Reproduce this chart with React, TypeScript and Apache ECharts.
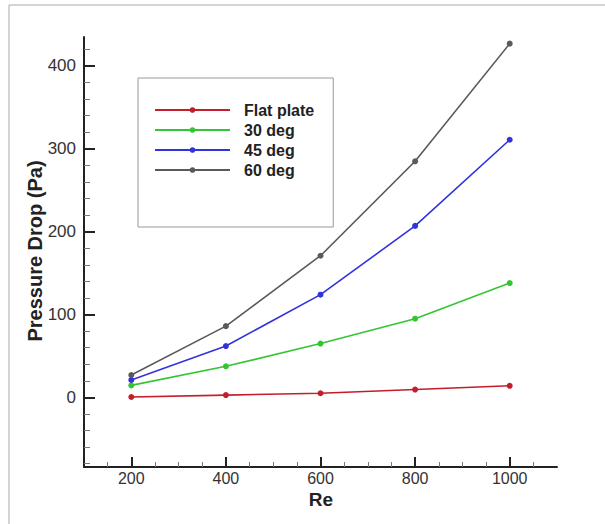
import React, { useEffect, useRef } from "react";
import * as echarts from "echarts";

const reValues = [200, 400, 600, 800, 1000];
const flatPlate = [0.5, 2.8, 5, 9.5, 14];
const deg30 = [14.5, 37.5, 65, 95, 138];
const deg45 = [21, 62, 124, 207, 311];
const deg60 = [27, 86, 171, 285, 427];

const seriesNames = ["Flat plate", "30 deg", "45 deg", "60 deg"];
const seriesColors = ["#c41e2a", "#33c633", "#3333dd", "#5a5a5a"];
const seriesData = [flatPlate, deg30, deg45, deg60];

const yMajor = [0, 100, 200, 300, 400];
const yMinor = [-80, -60, -40, -20, 20, 40, 60, 80, 120, 140, 160, 180, 220, 240, 260, 280, 320, 340, 360, 380, 420];
const xMajor = [200, 400, 600, 800, 1000];
const xMinor = [150, 250, 300, 350, 450, 500, 550, 650, 700, 750, 850, 900, 950, 1050];

const FONT = "'Liberation Sans', Arial, sans-serif";

export default function App() {
  const ref = useRef<HTMLDivElement>(null);
  useEffect(() => {
    if (!ref.current) return;
    const chart = echarts.init(ref.current, undefined, { renderer: "svg" });
    const axisColor = "#222";
    const fmt = (v: number) => String(v);
    const option: any = {
      animation: false,
      backgroundColor: "#fff",
      grid: { left: 84, right: 48, top: 37, bottom: 57, containLabel: false },
      xAxis: [
        {
          type: "value",
          min: 100,
          max: 1100,
          axisLine: { onZero: false, lineStyle: { color: axisColor, width: 2 } },
          axisTick: { inside: true, length: 10, customValues: xMajor, lineStyle: { color: axisColor, width: 2 } },
          axisLabel: { customValues: xMajor, formatter: fmt, color: "#333", fontSize: 16, fontFamily: FONT, margin: 3 },
          splitLine: { show: false },
        },
        {
          type: "value",
          min: 100,
          max: 1100,
          position: "bottom",
          axisLine: { show: false, onZero: false },
          axisTick: { inside: true, length: 5, customValues: xMinor, lineStyle: { color: "#777", width: 1 } },
          axisLabel: { show: false },
          splitLine: { show: false },
        },
      ],
      yAxis: [
        {
          type: "value",
          min: -84,
          max: 435,
          axisLine: { show: true, lineStyle: { color: axisColor, width: 2 } },
          axisTick: { show: true, inside: true, length: 11, customValues: yMajor, lineStyle: { color: axisColor, width: 2 } },
          axisLabel: { customValues: yMajor, formatter: fmt, color: "#333", fontSize: 17, fontFamily: FONT, margin: 8 },
          splitLine: { show: false },
        },
        {
          type: "value",
          min: -84,
          max: 435,
          position: "left",
          axisLine: { show: false },
          axisTick: { show: true, inside: true, length: 6, customValues: yMinor, lineStyle: { color: "#777", width: 1 } },
          axisLabel: { show: false },
          splitLine: { show: false },
        },
      ],
      legend: {
        left: 138,
        top: 78,
        orient: "vertical",
        padding: [24, 19, 49, 16],
        itemWidth: 75,
        itemHeight: 7,
        itemGap: 4,
        borderColor: "#999",
        borderWidth: 1,
        backgroundColor: "#fff",
        textStyle: { fontSize: 16, fontWeight: "bold", color: "#222", fontFamily: FONT, padding: [0, 0, 0, 9] },
        data: seriesNames,
      },
      series: seriesNames.map((name, i) => ({
        name,
        type: "line",
        xAxisIndex: 0,
        yAxisIndex: 0,
        data: reValues.map((x, j) => [x, seriesData[i][j]]),
        symbol: "circle",
        symbolSize: 6,
        lineStyle: { color: seriesColors[i], width: 1.6 },
        itemStyle: { color: seriesColors[i] },
      })),
      graphic: [
        {
          type: "rect",
          shape: { x: 9, y: 5, width: 610, height: 540 },
          style: { fill: "none", stroke: "#aaa", lineWidth: 1 },
          silent: true,
        },
        {
          type: "text",
          x: 321,
          y: 499,
          style: { text: "Re", font: `bold 19px ${FONT}`, fill: "#222", textAlign: "center", textVerticalAlign: "middle" },
        },
        {
          type: "text",
          x: 35,
          y: 251,
          rotation: Math.PI / 2,
          style: { text: "Pressure Drop (Pa)", font: `bold 20px ${FONT}`, fill: "#222", textAlign: "center", textVerticalAlign: "middle" },
        },
      ],
    };
    chart.setOption(option);
    return () => chart.dispose();
  }, []);
  return <div ref={ref} style={{ position: "fixed", left: 0, top: 0, width: 605, height: 524 }} />;
}
